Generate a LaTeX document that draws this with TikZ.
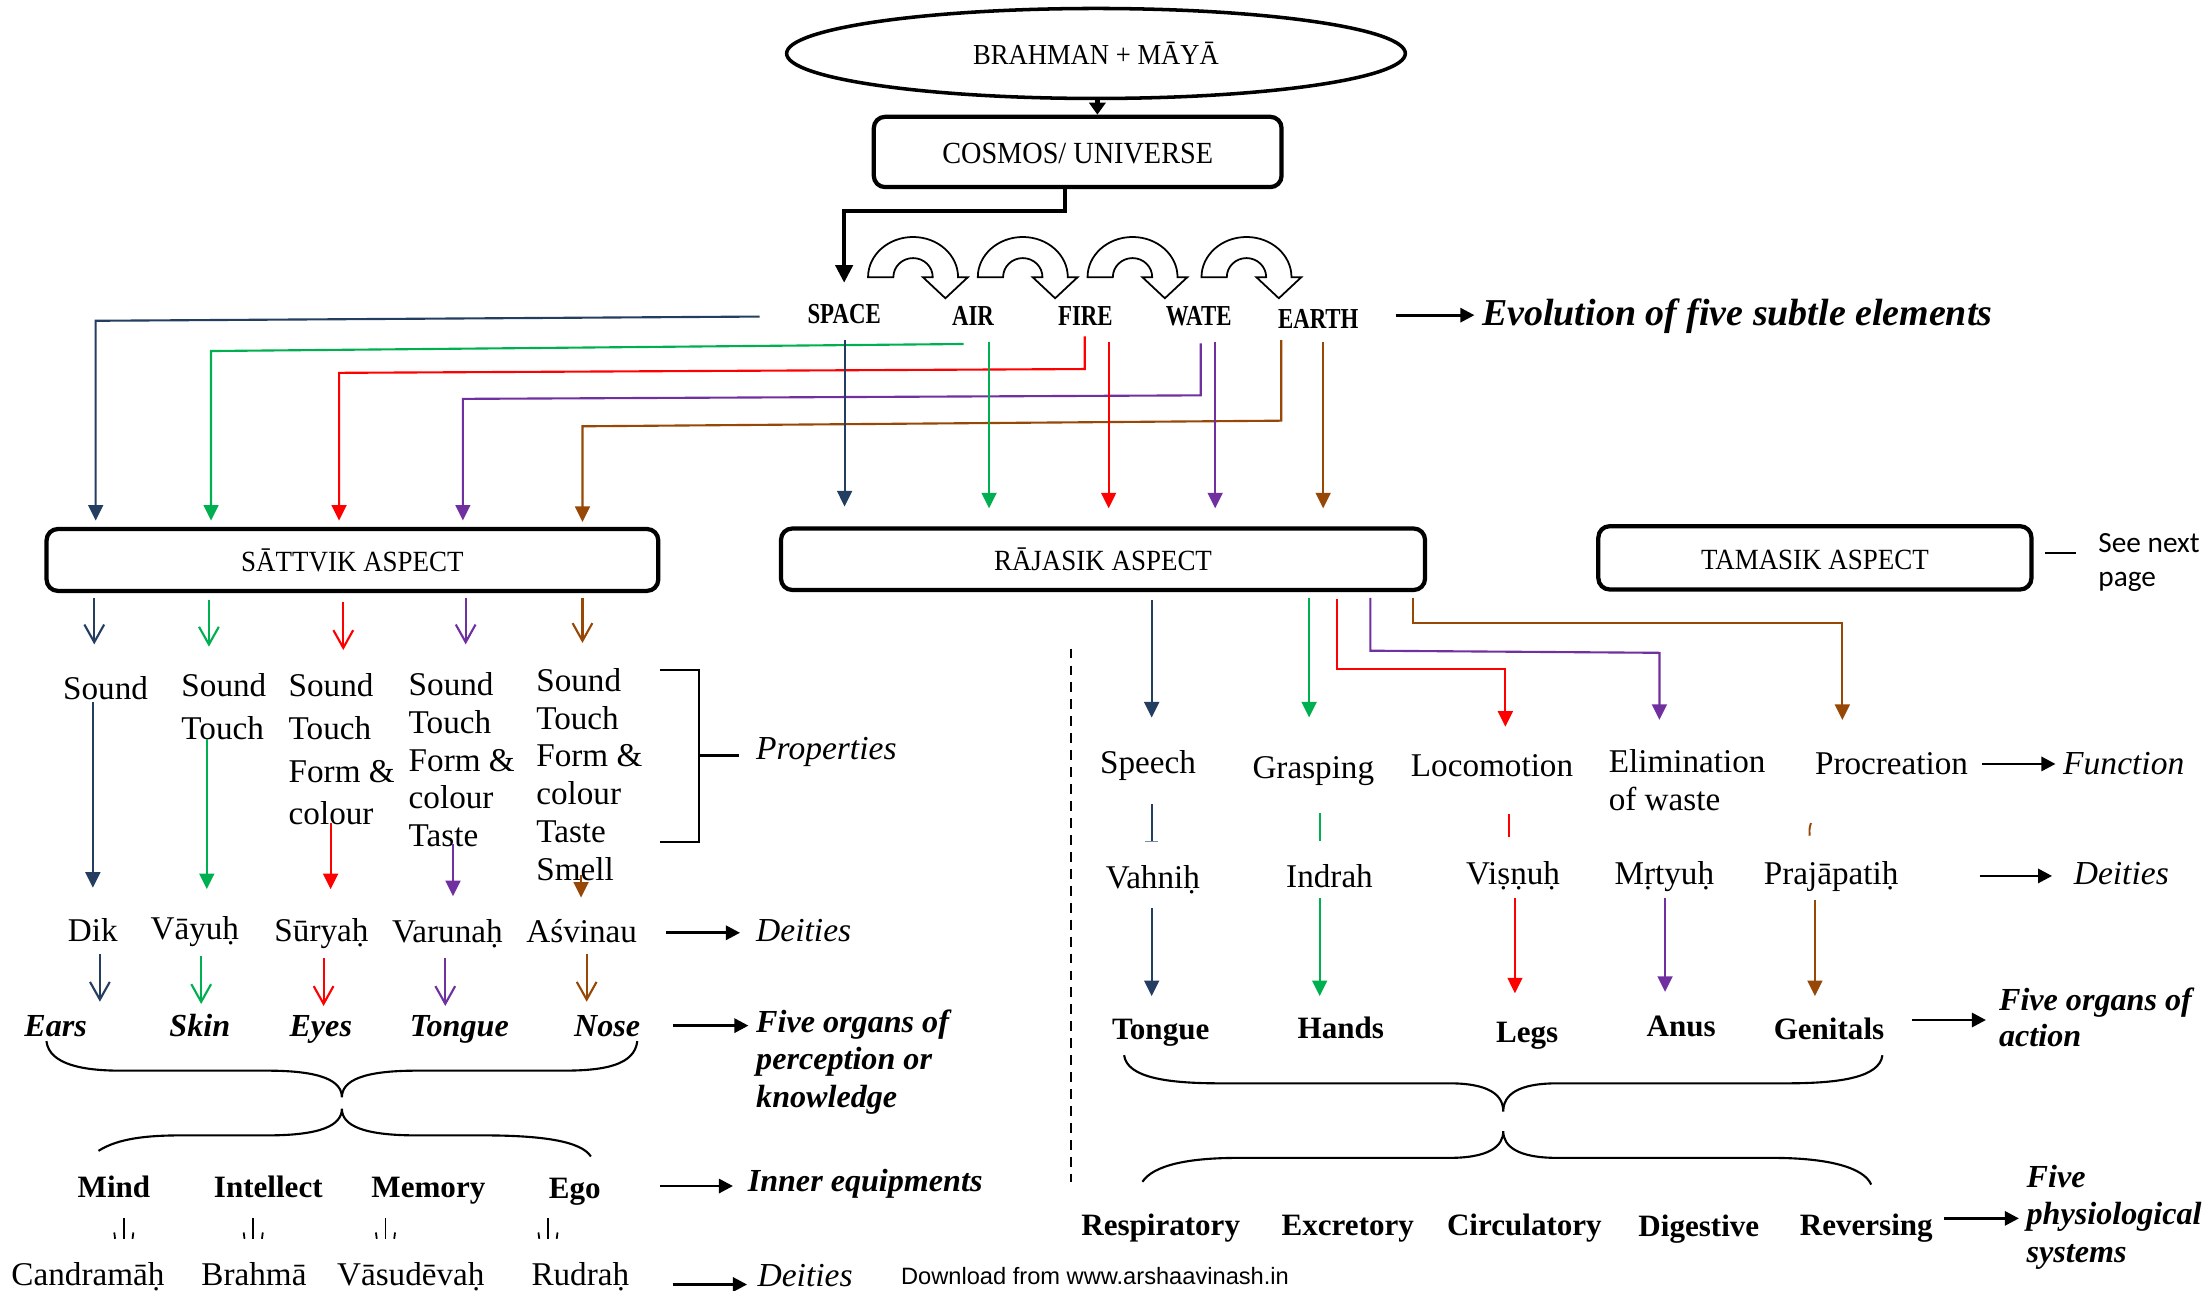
\documentclass[tikz,border=0pt]{standalone}
\usepackage{fontspec}
\setmainfont{Liberation Serif}
\newfontfamily\elfont{Liberation Serif}[FakeStretch=0.79]
\newfontfamily\capfont{Liberation Serif}[FakeStretch=0.92]
\newfontfamily\dlfont{Liberation Sans}
\newfontfamily\snfont{Carlito}
\usetikzlibrary{arrows.meta,shapes.geometric}
\definecolor{cnavy}{RGB}{36,62,98}
\definecolor{cgreen}{RGB}{0,176,80}
\definecolor{cred}{RGB}{255,0,0}
\definecolor{cpurple}{RGB}{112,48,160}
\definecolor{cbrown}{RGB}{151,71,6}
\begin{document}
\begin{tikzpicture}[x=0.014cm,y=-0.014cm,
  every node/.style={inner sep=0pt},
  bx/.style={draw,line width=1.2pt,rounded corners=3.2pt,font=\capfont\fontsize{8.3}{9}\selectfont,text height=0.66em,text depth=0pt},
  el/.style={anchor=base,font=\elfont\bfseries\fontsize{8.2}{9}\selectfont},
  tx/.style={anchor=base,font=\fontsize{9.4}{10.7}\selectfont},
  it/.style={anchor=base west,font=\itshape\fontsize{9.5}{10.7}\selectfont},
  bi/.style={anchor=base,font=\bfseries\itshape\fontsize{9.1}{10.5}\selectfont},
  bd/.style={anchor=base,font=\bfseries\fontsize{8.8}{10}\selectfont},
  fa/.style={line width=0.6pt,-{Triangle[length=4.4pt,width=4.2pt]}},
  oa/.style={line width=0.6pt,-{Straight Barb[length=5pt,width=5.6pt]}},
  ka/.style={line width=0.8pt,-{Triangle[length=4pt,width=4pt]}},
  tk/.style={line width=1.2pt},
  br/.style={line width=0.6pt},
  mk/.style={line width=0.5pt}
]
\useasboundingbox (0,0) rectangle (1568,917.6);
\fill[white] (0,0) rectangle (1568,917.6);

% ---- top ----
\node[ellipse,draw,line width=1pt,minimum width=6.16cm,minimum height=0.896cm,font=\capfont\fontsize{8.2}{9}\selectfont] (bm) at (779,38) {BRAHMAN + MĀYĀ};
\node[bx,minimum width=4.06cm,minimum height=0.70cm,font=\capfont\fontsize{8.7}{9}\selectfont] (cos) at (766,108) {COSMOS/ UNIVERSE};
\draw[tk,-{Triangle[length=3.4pt,width=4.6pt]}] (780,0 |- bm.south) -- (780,0 |- cos.north);
\draw[tk,-{Triangle[length=5pt,width=4.8pt]}] (757,0 |- cos.south) -- (757,150) -- (600,150) -- (600,201);

\foreach \xo in {617,695,773,854}{
  \draw[line width=0.5pt,fill=white] (\xo,197) arc[start angle=180,end angle=0,x radius=0.448cm,y radius=0.40cm]
    -- ++(7,0) -- ++(-16,15) -- ++(-16,-15) -- ++(7,0)
    arc[start angle=0,end angle=180,x radius=0.196cm,y radius=0.19cm] -- cycle;
}

\node[el] (sp) at (600,230) {SPACE};
\node[el] (air) at (691.6,231) {AIR};
\node[el] (fire) at (771.5,231) {FIRE};
\node[el] (wat) at (852,231) {WATE};
\node[el] (ea) at (937,233.5) {EARTH};
\node[anchor=base west,font=\bfseries\itshape\fontsize{10.75}{12}\selectfont] (evo) at (1053,231) {Evolution of five subtle elements};
\draw[ka] (992,224) -- (1048,224);

% ---- feeders to Sattvik ----
\draw[fa,cnavy] (540,225) -- (68,228) -- (68,370);
\draw[fa,cgreen] (685,244.5) -- (150,249.5) -- (150,370);
\draw[fa,cred] (771,239) -- (771,262.3) -- (241,265) -- (241,370);
\draw[fa,cpurple] (853.5,244) -- (853.5,281) -- (329,283.5) -- (329,370);
\draw[fa,cbrown] (910.7,241.7) -- (910.7,299) -- (414,303) -- (414,371);
% ---- feeders to Rajasik ----
\draw[fa,cnavy] (600.3,241.7) -- (600.3,360);
\draw[fa,cgreen] (703,242.8) -- (703,361.3);
\draw[fa,cred] (788,242.8) -- (788,361.3);
\draw[fa,cpurple] (863.7,242.8) -- (863.7,361.3);
\draw[fa,cbrown] (940.5,242.8) -- (940.5,361.3);

% ---- aspect boxes ----
\node[bx,minimum width=6.09cm,minimum height=0.616cm] (sat) at (250.5,398) {SĀTTVIK ASPECT};
\node[bx,minimum width=6.412cm,minimum height=0.612cm] (raj) at (784,397.5) {RĀJASIK ASPECT};
\node[bx,minimum width=4.312cm,minimum height=0.63cm] (tam) at (1290,396.5) {TAMASIK ASPECT};
\draw[line width=0.8pt] (1453.6,393) -- (1475.5,393);
\node[anchor=north west,align=left,font=\snfont\fontsize{8.3}{9.6}\selectfont] (snp) at (1491,378.5) {See next\\page};

% ---- Sattvik side ----
\draw[oa,cnavy] (67,425) -- (67,458);
\draw[oa,cgreen] (148.5,426.5) -- (148.5,459.6);
\draw[oa,cred] (244,427.6) -- (244,462);
\draw[oa,cpurple] (331,425) -- (331,458);
\draw[oa,cbrown] (414,425) -- (414,457);

\node[anchor=north west,align=left,font=\fontsize{9.4}{12.15}\selectfont] (p1) at (44.4,480) {Sound};
\node[anchor=north west,align=left,font=\fontsize{9.4}{12.15}\selectfont] (p2) at (128.5,478) {Sound\\Touch};
\node[anchor=north west,align=left,font=\fontsize{9.4}{12.15}\selectfont] (p3) at (204.7,478) {Sound\\Touch\\Form \&\\colour};
\node[anchor=north west,align=left,font=\fontsize{9.4}{10.7}\selectfont] (p4) at (290,477.5) {Sound\\Touch\\Form \&\\colour\\Taste};
\node[anchor=north west,align=left,font=\fontsize{9.4}{10.7}\selectfont] (p5) at (380.7,474.5) {Sound\\Touch\\Form \&\\colour\\Taste\\Smell};
\draw[br] (469,476) -- (497,476) -- (497,598.5) -- (469,598.5);
\draw[br] (497,537) -- (525,537);
\node[it] (prop) at (537,540) {Properties};

\draw[fa,cnavy] (66,499) -- (66,631);
\draw[fa,cgreen] (147,525) -- (147,632);
\draw[fa,cred] (235,585) -- (235,632);
\draw[fa,cpurple] (322,600) -- (322,637);
\draw[fa,cbrown] (413,622) -- (413,638);

\node[tx] (d1) at (66,669) {Dik};
\node[tx] (d2) at (138.5,667.5) {Vāyuḥ};
\node[tx] (d3) at (228.5,669.5) {Sūryaḥ};
\node[tx] (d4) at (318,670) {Varunaḥ};
\node[tx] (d5) at (413.5,670) {Aśvinau};
\node[it] (dl1) at (537,669) {Deities};
\draw[ka] (473.5,663) -- (526,663);

\draw[oa,cnavy] (71,678) -- (71,712);
\draw[oa,cgreen] (143,679.5) -- (143,713.6);
\draw[oa,cred] (230,681) -- (230,715);
\draw[oa,cpurple] (316.5,681) -- (316.5,715);
\draw[oa,cbrown] (417,678) -- (417,712);

\node[bi] (o1) at (39.5,737) {Ears};
\node[bi] (o2) at (142,737) {Skin};
\node[bi] (o3) at (228,737) {Eyes};
\node[bi] (o4) at (326.5,737) {Tongue};
\node[bi] (o5) at (431.5,737) {Nose};
\draw[ka] (478.5,729) -- (532,729);
\node[anchor=north west,align=left,font=\bfseries\itshape\fontsize{9.1}{10.56}\selectfont] (fop) at (537,717.4) {Five organs of\\perception or\\knowledge};

\draw[br] (33,740) .. controls (35,757) and (60,761) .. (86,761) -- (190,761) .. controls (228,761) and (243,768) .. (243,780) .. controls (243,768) and (258,761) .. (296,761) -- (400,761) .. controls (430,761) and (451,757) .. (453,740);
\draw[br] (70,818) .. controls (84,809) and (105,807) .. (129,807) -- (190,807) .. controls (228,807) and (243,800) .. (243,788) .. controls (243,800) and (258,807) .. (296,807) -- (343,807) .. controls (385,807) and (413,811) .. (420,822);

\node[bd] (m1) at (81,851.5) {Mind};
\node[bd] (m2) at (190.7,851.5) {Intellect};
\node[bd] (m3) at (304.5,851.5) {Memory};
\node[bd] (m4) at (408.5,852) {Ego};
\draw[ka] (469,843) -- (521,843);
\node[anchor=base west,font=\bfseries\itshape\fontsize{9.1}{10.5}\selectfont] (ie) at (531,847) {Inner equipments};

\foreach \mx in {88,180,274,389.5}{
  \draw[mk] (\mx,866) -- (\mx,880.5);
  \draw[mk] (\mx-6.8,876) -- (\mx-6.2,880.5);
  \draw[mk] (\mx+6.8,876) -- (\mx+6.2,880.5);
}

\node[tx] (c1) at (62.5,913.4) {Candramāḥ};
\node[tx] (c2) at (180.5,913.4) {Brahmā};
\node[tx] (c3) at (292,913.4) {Vāsudēvaḥ};
\node[tx] (c4) at (412.5,913.4) {Rudraḥ};
\draw[ka] (478,913) -- (531,913);
\node[it] (dl2) at (538,914.5) {Deities};
\node[anchor=base west,font=\dlfont\fontsize{6.7}{8}\selectfont] (dl) at (640,913) {Download from www.arshaavinash.in};

\draw[line width=0.5pt,dash pattern=on 2.8pt off 2pt] (761.5,461) -- (761.5,840);

% ---- Rajasik side ----
\draw[fa,cnavy] (818.6,426.5) -- (818.6,510);
\draw[fa,cgreen] (930.5,425) -- (930.5,510);
\draw[fa,cred] (950.5,426) -- (950.5,475.5) -- (1070,475.5) -- (1070,516.5);
\draw[fa,cpurple] (974,425) -- (974,462.5) -- (1179.5,464) -- (1179.5,511.7);
\draw[fa,cbrown] (1004.6,425) -- (1004.6,442.5) -- (1309.5,442.5) -- (1309.5,511.7);

\node[tx] (f1) at (816,549.5) {Speech};
\node[tx] (f2) at (933.5,553.5) {Grasping};
\node[tx] (f3) at (1060.5,552) {Locomotion};
\node[anchor=north west,align=left,font=\fontsize{9.4}{10.56}\selectfont] (f4) at (1143,532.4) {Elimination\\of waste};
\node[tx] (f5) at (1344.5,550.5) {Procreation};
\node[it] (fn) at (1466,550.5) {Function};
\draw[ka] (1409,543) -- (1461,543);

\draw[line width=0.55pt,cnavy] (818.6,571.5) -- (818.6,598);
\draw[line width=0.4pt,cnavy!60] (814,598) -- (823,598);
\draw[line width=0.55pt,cgreen] (938,578) -- (938,598);
\draw[line width=0.55pt,cred] (1072.6,578.6) -- (1072.6,594.7);
\draw[line width=0.55pt,cbrown] (1287.2,585) .. controls (1286,589) .. (1286.3,594);

\node[tx] (r1) at (819.5,631.5) {Vahniḥ};
\node[tx] (r2) at (945,631) {Indrah};
\node[tx] (r3) at (1075.5,628.5) {Viṣṇuḥ};
\node[tx] (r4) at (1183,629) {Mṛtyuḥ};
\node[tx] (r5) at (1301.5,628.5) {Prajāpatiḥ};
\node[it] (dr) at (1473.5,628.5) {Deities};
\draw[ka] (1407,622.6) -- (1458.6,622.6);

\draw[fa,cnavy] (818.6,645.6) -- (818.6,708);
\draw[fa,cgreen] (938,638.5) -- (938,708);
\draw[fa,cred] (1076.8,638.5) -- (1076.8,706);
\draw[fa,cpurple] (1183.5,638.5) -- (1183.5,705);
\draw[fa,cbrown] (1290,640) -- (1290,708);

\node[bd] (g1) at (825,738.6) {Tongue};
\node[bd] (g2) at (953,738) {Hands};
\node[bd] (g3) at (1085.5,741) {Legs};
\node[bd] (g4) at (1195,736.4) {Anus};
\node[bd] (g5) at (1300,738.6) {Genitals};
\draw[ka] (1359,725) -- (1411.6,725);
\node[anchor=north west,align=left,font=\bfseries\itshape\fontsize{9.1}{10.36}\selectfont] (foa) at (1420.4,701.4) {Five organs of\\action};

\draw[br] (799,750) .. controls (801,766) and (830,770) .. (867,770) -- (1030,770) .. controls (1058,770) and (1068.5,778) .. (1068.5,790) .. controls (1068.5,778) and (1079,770) .. (1107,770) -- (1270,770) .. controls (1307,770) and (1336,766) .. (1338,750);
\draw[br] (812,840) .. controls (820,828) and (845,823) .. (880,823) -- (1030,823) .. controls (1058,823) and (1068.5,815) .. (1068.5,804) .. controls (1068.5,815) and (1079,823) .. (1107,823) -- (1260,823) .. controls (1300,823) and (1325,830) .. (1330,842);

\node[bd] (s1) at (825,878) {Respiratory};
\node[bd] (s2) at (958,878) {Excretory};
\node[bd] (s3) at (1083.5,878) {Circulatory};
\node[bd] (s4) at (1207.5,879) {Digestive};
\node[bd] (s5) at (1326.5,878) {Reversing};
\draw[ka] (1382,866) -- (1435,866);
\node[anchor=north west,align=left,font=\bfseries\itshape\fontsize{9.1}{10.56}\selectfont] (fps) at (1440,827.8) {Five\\physiological\\systems};
\end{tikzpicture}
\end{document}
